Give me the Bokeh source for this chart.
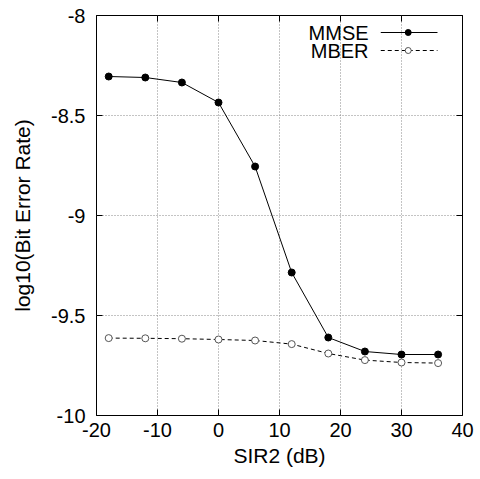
from bokeh.plotting import figure
from bokeh.models import LinearAxis, Label, FixedTicker, Range1d
from bokeh.embed import file_html
from bokeh.resources import INLINE

sir2 = [-18, -12, -6, 0, 6, 12, 18, 24, 30, 36]
mmse = [-8.305, -8.31, -8.335, -8.435, -8.755, -9.285, -9.61, -9.68, -9.695, -9.695]
mber = [-9.613, -9.614, -9.616, -9.62, -9.625, -9.643, -9.69, -9.723, -9.735, -9.738]
x_ticks = [-20, -10, 0, 10, 20, 30, 40]
y_ticks = [-10, -9.5, -9, -8.5, -8]
series_names = ["MMSE", "MBER"]

FONT = "Liberation Sans"

p = figure(frame_width=366, frame_height=400, output_backend="svg", toolbar_location=None,
           x_range=Range1d(-20, 40), y_range=Range1d(-10, -8),
           min_border_left=96, min_border_right=16, min_border_top=15, min_border_bottom=62)
p.outline_line_color = "black"
p.outline_line_width = 1

for ax in (p.xaxis[0], p.yaxis[0]):
    ax.major_tick_in = 6
    ax.major_tick_out = 0
    ax.minor_tick_in = 0
    ax.minor_tick_out = 0
    ax.axis_line_color = None
    ax.major_label_text_font = FONT
    ax.major_label_text_font_size = "20px"
    ax.major_label_text_color = "black"
    ax.axis_label_text_font = FONT
    ax.axis_label_text_font_size = "21px"
    ax.axis_label_text_font_style = "normal"
    ax.axis_label_text_color = "black"

p.xaxis.ticker = FixedTicker(ticks=x_ticks)
p.yaxis.ticker = FixedTicker(ticks=y_ticks)
p.xaxis.major_label_overrides = {t: str(t) for t in x_ticks}
p.yaxis.major_label_overrides = {t: ("%g" % t) for t in y_ticks}
p.xaxis.axis_label = "SIR2 (dB)"
p.yaxis.axis_label = "log10(Bit Error Rate)"
p.xaxis.major_label_standoff = 7
p.yaxis.major_label_standoff = 11
p.xaxis.axis_label_standoff = 4
p.yaxis.axis_label_standoff = 14

p.xgrid.ticker = FixedTicker(ticks=x_ticks)
p.ygrid.ticker = FixedTicker(ticks=y_ticks)
for g in (p.xgrid[0], p.ygrid[0]):
    g.grid_line_color = "#888888"
    g.grid_line_dash = "1 2"
    g.grid_line_width = 1

# mirrored ticks (no labels)
top = LinearAxis(ticker=FixedTicker(ticks=x_ticks), major_tick_in=6, major_tick_out=0,
                 minor_tick_in=0, minor_tick_out=0, axis_line_color=None,
                 major_label_overrides={t: "" for t in x_ticks}, major_label_standoff=0)
right = LinearAxis(ticker=FixedTicker(ticks=y_ticks), major_tick_in=6, major_tick_out=0,
                   minor_tick_in=0, minor_tick_out=0, axis_line_color=None,
                   major_label_overrides={t: "" for t in y_ticks}, major_label_standoff=0)
p.add_layout(top, "above")
p.add_layout(right, "right")

p.line(sir2, mmse, line_color="black", line_width=1)
p.scatter(sir2, mmse, size=7, fill_color="black", line_color="black")
p.line(sir2, mber, line_color="black", line_width=1, line_dash="4 3")
p.scatter(sir2, mber, size=7, fill_color="white", line_color="#555555", line_width=1)

# legend (gnuplot style: text then sample)
leg_x = [26.6, 35.9]
leg_mx = 31.1
leg_y = [-8.085, -8.175]
p.line(leg_x, [leg_y[0]] * 2, line_color="black", line_width=1)
p.scatter([leg_mx], [leg_y[0]], size=6, fill_color="black", line_color="black")
p.line(leg_x, [leg_y[1]] * 2, line_color="black", line_width=1, line_dash="4 3")
p.scatter([leg_mx], [leg_y[1]], size=6, fill_color="white", line_color="#555555")
for name, yy in zip(series_names, leg_y):
    p.add_layout(Label(x=24.6, y=yy, text=name, text_align="right", text_baseline="middle",
                       text_font=FONT, text_font_size="20px", text_color="black"))

open("out.html", "w").write(file_html(p, INLINE))
